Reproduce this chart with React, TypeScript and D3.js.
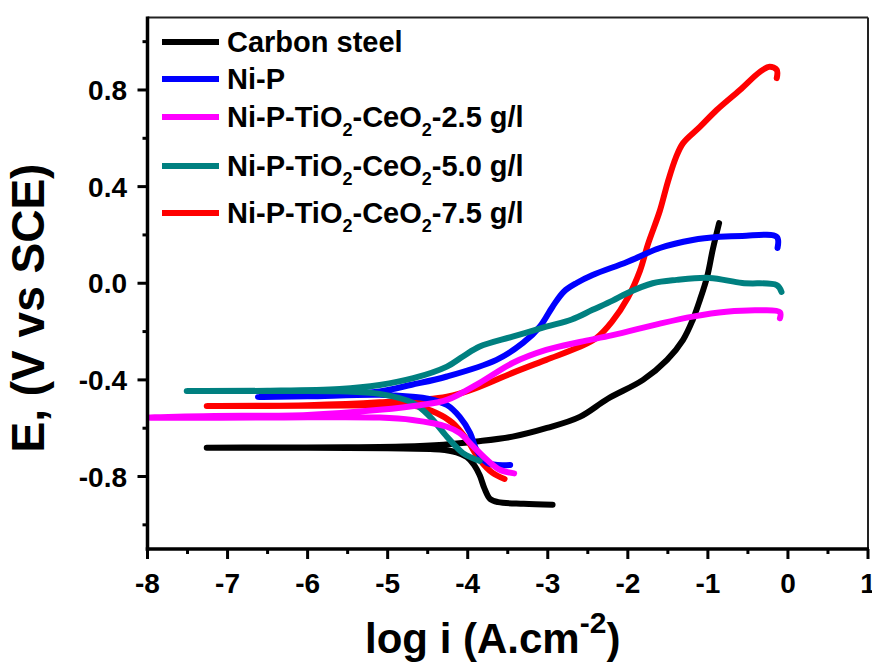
import React from "react";
import * as d3 from "d3";

type Pt = [number, number];

const xTicks = [-8, -7, -6, -5, -4, -3, -2, -1, 0, 1];
const yTicks = [-0.8, -0.4, 0.0, 0.4, 0.8];
const xMinor = [-7.5, -6.5, -5.5, -4.5, -3.5, -2.5, -1.5, -0.5, 0.5];
const yMinor = [-1.0, -0.6, -0.2, 0.2, 0.6, 1.0];

// scan order: cathodic end -> Ecorr tip -> anodic end
const carbonSteel: Pt[] = [
  [-2.94, -0.917], [-3.3, -0.913], [-3.62, -0.906], [-3.72, -0.893], [-3.79, -0.85],
  [-3.85, -0.795], [-3.92, -0.752], [-4.01, -0.72], [-4.14, -0.7], [-4.35, -0.688],
  [-5.0, -0.683], [-6.0, -0.681], [-7.26, -0.681],
  [-6.5, -0.68], [-5.5, -0.679], [-4.8, -0.676], [-4.3, -0.668], [-3.89, -0.655],
  [-3.44, -0.635], [-3.01, -0.599], [-2.6, -0.553], [-2.25, -0.478], [-1.81, -0.4],
  [-1.51, -0.317], [-1.31, -0.234], [-1.19, -0.152], [-1.1, -0.069], [-1.01, 0.026],
  [-0.94, 0.138], [-0.86, 0.249],
];

const niP: Pt[] = [
  [-3.47, -0.752], [-3.76, -0.743], [-3.89, -0.69], [-3.97, -0.62], [-4.1, -0.553],
  [-4.26, -0.504], [-4.5, -0.478], [-4.69, -0.47], [-5.1, -0.462], [-6.0, -0.468],
  [-6.62, -0.471],
  [-6.0, -0.466], [-5.5, -0.458], [-5.1, -0.448], [-4.7, -0.42], [-4.26, -0.386],
  [-3.64, -0.317], [-3.31, -0.247], [-3.1, -0.18], [-2.94, -0.097], [-2.8, -0.035],
  [-2.64, 0.001], [-2.44, 0.034], [-2.01, 0.088], [-1.6, 0.146], [-1.19, 0.179],
  [-0.85, 0.192], [-0.57, 0.196], [-0.14, 0.192], [-0.13, 0.146],
];

const tc25: Pt[] = [
  [-3.42, -0.787], [-3.6, -0.772], [-3.76, -0.731], [-3.93, -0.676], [-4.1, -0.62],
  [-4.26, -0.594], [-4.69, -0.566], [-5.1, -0.556], [-6.5, -0.556], [-7.98, -0.556],
  [-7.3, -0.55], [-6.0, -0.545], [-5.1, -0.524], [-4.6, -0.505], [-4.26, -0.483],
  [-3.85, -0.412], [-3.44, -0.33], [-3.02, -0.276], [-2.6, -0.243], [-2.19, -0.215],
  [-1.6, -0.167], [-1.19, -0.138], [-0.77, -0.118], [-0.35, -0.112], [-0.1, -0.12],
  [-0.1, -0.145],
];

const tc50: Pt[] = [
  [-3.85, -0.735], [-4.06, -0.703], [-4.26, -0.635], [-4.47, -0.553], [-4.68, -0.496],
  [-5.1, -0.458], [-5.6, -0.447], [-6.5, -0.446], [-7.51, -0.446],
  [-6.5, -0.445], [-5.6, -0.438], [-5.1, -0.421], [-4.68, -0.393], [-4.26, -0.345],
  [-4.06, -0.303], [-3.85, -0.262], [-3.44, -0.221], [-3.02, -0.18], [-2.7, -0.15],
  [-2.44, -0.11], [-2.19, -0.072], [-2.01, -0.041], [-1.69, 0.0], [-1.39, 0.014],
  [-0.98, 0.022], [-0.57, 0.001], [-0.14, -0.008], [-0.08, -0.036],
];

const tc75: Pt[] = [
  [-3.54, -0.81], [-3.69, -0.785], [-3.85, -0.731], [-4.01, -0.648], [-4.19, -0.578],
  [-4.39, -0.537], [-4.69, -0.506], [-5.1, -0.505], [-6.0, -0.507], [-7.26, -0.508],
  [-6.0, -0.505], [-5.1, -0.493], [-4.26, -0.47], [-3.85, -0.428], [-3.44, -0.371],
  [-3.02, -0.317], [-2.6, -0.263], [-2.39, -0.226], [-2.2, -0.16], [-2.0, -0.06],
  [-1.85, 0.05], [-1.75, 0.16], [-1.6, 0.3], [-1.5, 0.42], [-1.4, 0.52], [-1.31, 0.58],
  [-1.1, 0.647], [-0.89, 0.717], [-0.6, 0.8], [-0.35, 0.875], [-0.23, 0.896],
  [-0.14, 0.883], [-0.14, 0.849],
];

const seriesNames = ["Carbon steel", "Ni-P", "Ni-P-TiO2-CeO2-2.5 g/l", "Ni-P-TiO2-CeO2-5.0 g/l", "Ni-P-TiO2-CeO2-7.5 g/l"];
const seriesColors = ["#000000", "#0000ff", "#ff00ff", "#008080", "#ff0000"];
const seriesData = [carbonSteel, niP, tc25, tc50, tc75];
const drawOrder = [0, 4, 1, 3, 2];

const W = 872;
const H = 662;
const FONT = "'Liberation Sans', Arial, Helvetica, sans-serif";

function LegendLabel({ name, x, y }: { name: string; x: number; y: number }) {
  if (!name.startsWith("Ni-P-TiO2")) {
    return (
      <text x={x} y={y} fontSize={29} fontWeight="bold" fontFamily={FONT}>
        {name}
      </text>
    );
  }
  const tail = name.slice("Ni-P-TiO2-CeO2".length);
  return (
    <text x={x} y={y} fontSize={29} fontWeight="bold" fontFamily={FONT}>
      <tspan>Ni-P-TiO</tspan>
      <tspan fontSize={18} dy={9}>2</tspan>
      <tspan dy={-9}>-CeO</tspan>
      <tspan fontSize={18} dy={9}>2</tspan>
      <tspan dy={-9}>{tail}</tspan>
    </text>
  );
}

export default function App() {
  const x = d3.scaleLinear().domain([-8, 1]).range([147.5, 868]);
  const y = d3.scaleLinear().domain([-1.1, 1.1]).range([549, 17.5]);
  const line = d3
    .line<Pt>()
    .x((d) => x(d[0]))
    .y((d) => y(d[1]))
    .curve(d3.curveCatmullRom.alpha(0.5));

  const left = x(-8);
  const right = x(1);
  const top = y(1.1);
  const bottom = y(-1.1);

  const legendY = [42, 79, 117, 166, 213];

  return (
    <svg
      width={W}
      height={H}
      viewBox={`0 0 ${W} ${H}`}
      style={{ position: "absolute", left: 0, top: 0, background: "#fff" }}
    >
      <rect x={0} y={0} width={W} height={H} fill="#fff" />
      <defs>
        <clipPath id="plotClip">
          <rect x={left} y={top} width={right - left} height={bottom - top} />
        </clipPath>
      </defs>

      <g clipPath="url(#plotClip)">
        {drawOrder.map((i) => (
          <path
            key={i}
            d={line(seriesData[i]) || ""}
            fill="none"
            stroke={seriesColors[i]}
            strokeWidth={6}
            strokeLinecap="round"
            strokeLinejoin="round"
          />
        ))}
      </g>

      <line x1={left} x2={right} y1={top} y2={top} stroke="#222" strokeWidth={2} />
      <line x1={right} x2={right} y1={top} y2={bottom} stroke="#222" strokeWidth={2} />

      <line x1={left} x2={left} y1={top - 1} y2={bottom + 1.75} stroke="#000" strokeWidth={3.5} />
      <line x1={left - 1.75} x2={right + 1} y1={bottom} y2={bottom} stroke="#000" strokeWidth={3.5} />

      {xTicks.map((t) => (
        <g key={"xt" + t}>
          <line x1={x(t)} x2={x(t)} y1={bottom} y2={bottom + 10} stroke="#000" strokeWidth={3} />
          <text
            x={x(t)}
            y={593}
            textAnchor="middle"
            fontSize={28}
            fontWeight="bold"
            fontFamily={FONT}
          >
            {t}
          </text>
        </g>
      ))}
      {xMinor.map((t) => (
        <line key={"xm" + t} x1={x(t)} x2={x(t)} y1={bottom} y2={bottom + 5} stroke="#000" strokeWidth={3} />
      ))}

      {yTicks.map((t) => (
        <g key={"yt" + t}>
          <line x1={left - 10} x2={left} y1={y(t)} y2={y(t)} stroke="#000" strokeWidth={3} />
          <text
            x={127}
            y={y(t) + 10}
            textAnchor="end"
            fontSize={28}
            fontWeight="bold"
            fontFamily={FONT}
          >
            {d3.format(".1f")(t).replace("−", "-")}
          </text>
        </g>
      ))}
      {yMinor.map((t) => (
        <line key={"ym" + t} x1={left - 5} x2={left} y1={y(t)} y2={y(t)} stroke="#000" strokeWidth={3} />
      ))}

      <text
        transform={`translate(44, 308) rotate(-90)`}
        textAnchor="middle"
        fontSize={46}
        fontWeight="bold"
        fontFamily={FONT}
      >
        E, (V vs SCE)
      </text>
      <text x={365} y={653} fontSize={42} fontWeight="bold" fontFamily={FONT}>
        <tspan>log i (A.cm</tspan>
        <tspan fontSize={30} dy={-20}>-2</tspan>
        <tspan dy={20}>)</tspan>
      </text>

      {seriesNames.map((name, i) => (
        <g key={"lg" + i}>
          <line
            x1={162}
            x2={219}
            y1={legendY[i]}
            y2={legendY[i]}
            stroke={seriesColors[i]}
            strokeWidth={6}
          />
          <LegendLabel name={name} x={227} y={legendY[i] + 10} />
        </g>
      ))}
    </svg>
  );
}
